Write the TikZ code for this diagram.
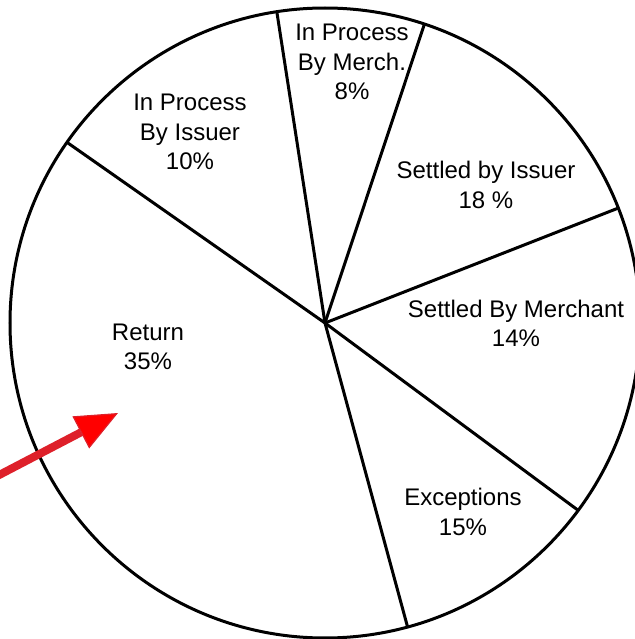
\documentclass[tikz,border=0pt]{standalone}
\usepackage{fontspec}
\setmainfont{Liberation Sans}
\usetikzlibrary{arrows.meta}
\definecolor{arrowred}{RGB}{222,32,42}
\begin{document}
\begin{tikzpicture}[x=0.5pt, y=0.5pt, line width=1.5pt, font=\fontsize{12}{14.6}\selectfont]
		\tikzstyle{lbl} = [align=center, inner sep=0pt]
		\tikzstyle{spoke} = [draw=black, line width=1.5pt]
		\useasboundingbox (0,0) rectangle (635,639);
		\coordinate (o) at (325,316);
		\draw (o) circle[radius=315];
		% Trennlinien der Sektoren
		\foreach \ang in {98.8, 71.6, 21.4, -36.5, -74.8, 145}
			\draw[spoke] (o) -- ++(\ang:315);
		\node[lbl] (merch) at (352,577) {In Process \\ By Merch. \\ 8\%};
		\node[lbl] (iss) at (190,507) {In Process \\ By Issuer \\ 10\%};
		\node[lbl] (setiss) at (486,454) {Settled by Issuer \\ 18 \%};
		\node[lbl] (setmer) at (516,316) {Settled By Merchant \\ 14\%};
		\node[lbl] (ret) at (148,292) {Return \\ 35\%};
		\node[lbl] (exc) at (463,127) {Exceptions \\ 15\%};
		\coordinate (arrstart) at (-20,154);
		\coordinate (arrtip) at (118,226);
		\draw[-{Triangle[length=21pt, width=18pt, fill=red, line width=0.6pt]}, draw=arrowred, line width=4pt] (arrstart) -- (arrtip);
	\end{tikzpicture}
\end{document}
